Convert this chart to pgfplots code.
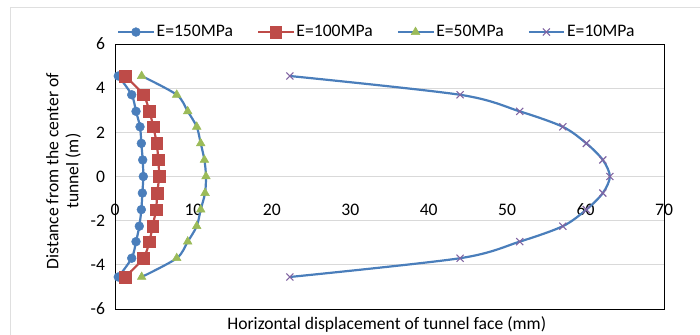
\documentclass[border=0pt]{standalone}
\usepackage{pgfplots}
\pgfplotsset{compat=1.18}
\usepackage{fontspec}
\setmainfont{Carlito}
\definecolor{cblue}{HTML}{4A7EBB}
\definecolor{cred}{HTML}{BE4B48}
\definecolor{cgreen}{HTML}{9BBB59}
\definecolor{cpurple}{HTML}{8064A2}
\begin{document}
\fontsize{17.6pt}{20pt}\selectfont
\begin{tikzpicture}[x=1pt,y=1pt]
\useasboundingbox (0,0) rectangle (700,334);
\draw[gray!25, line width=1pt] (10,-20) -- (10,326) -- (720,326);
\begin{axis}[
  at={(115pt,25pt)}, anchor=south west,
  scale only axis, width=549pt, height=265pt,
  xmin=0, xmax=70, ymin=-6, ymax=6,
  xtick={0,10,...,70}, ytick={-6,-4,...,6},
  major tick length=0pt,
  ymajorgrids, grid style={gray!30, line width=0.8pt},
  axis line style={black, line width=0.9pt},
  /pgf/number format/assume math mode=true,
  ticklabel style={font=\fontsize{17.6pt}{20pt}\selectfont},
  xticklabel style={yshift=111pt},
  yticklabel style={xshift=-4pt},
  ylabel={Distance from the center of\\tunnel (m)},
  ylabel style={align=center, at={(axis description cs:-0.094,0.52)}, anchor=center},
  xlabel={Horizontal displacement of tunnel face (mm)},
  xlabel style={at={(axis description cs:0.495,-0.057)}, anchor=center},
  legend style={at={(axis description cs:0.477,1.045)}, anchor=center, draw=none,
    fill=none, font=\fontsize{17.6pt}{20pt}\selectfont,
    /tikz/every even column/.append style={column sep=22pt}},
  legend columns=4,
  legend image code/.code={
    \draw[mark repeat=2,mark phase=2] plot coordinates {(0cm,0cm) (0.62cm,0cm) (1.24cm,0cm)};},
  every axis plot/.append style={line width=2.2pt, smooth, tension=0.5},
]
\addplot[cblue, mark=*, mark size=4.4pt, mark options={fill=cblue, draw=cblue, line width=0.5pt}] coordinates {
(0.42,4.55) (2.13,3.7) (2.68,2.95) (3.19,2.25) (3.36,1.5) (3.53,0.75) (3.61,0)
(3.49,-0.75) (3.36,-1.5) (3.10,-2.25) (2.68,-2.95) (2.13,-3.7) (0.42,-4.55)};
\addlegendentry{E=150MPa}
\addplot[cred, mark=square*, mark size=5.8pt, mark options={fill=cred, draw=cred, line width=0.5pt}] coordinates {
(1.28,4.55) (3.61,3.7) (4.38,2.95) (4.89,2.25) (5.31,1.5) (5.53,0.75) (5.61,0)
(5.40,-0.75) (5.23,-1.5) (4.80,-2.25) (4.38,-2.95) (3.61,-3.7) (1.28,-4.55)};
\addlegendentry{E=100MPa}
\addplot[cblue, mark=triangle*, mark size=5pt, mark options={fill=cgreen, draw=cgreen, line width=0.5pt}] coordinates {
(3.40,4.55) (7.87,3.7) (9.27,2.95) (10.42,2.25) (10.93,1.5) (11.40,0.75) (11.60,0)
(11.48,-0.75) (10.93,-1.5) (10.42,-2.25) (9.27,-2.95) (7.87,-3.7) (3.40,-4.55)};
\addlegendentry{E=50MPa}
\addplot[cblue, mark=x, mark size=5pt, mark options={draw=cpurple, line width=1.1pt}] coordinates {
(22.3,4.55) (44.0,3.7) (51.6,2.95) (57.1,2.25) (60.1,1.5) (62.2,0.75) (63.1,0)
(62.2,-0.75) (60.1,-1.5) (57.1,-2.25) (51.6,-2.95) (44.0,-3.7) (22.3,-4.55)};
\addlegendentry{E=10MPa}
\end{axis}
\end{tikzpicture}
\end{document}
